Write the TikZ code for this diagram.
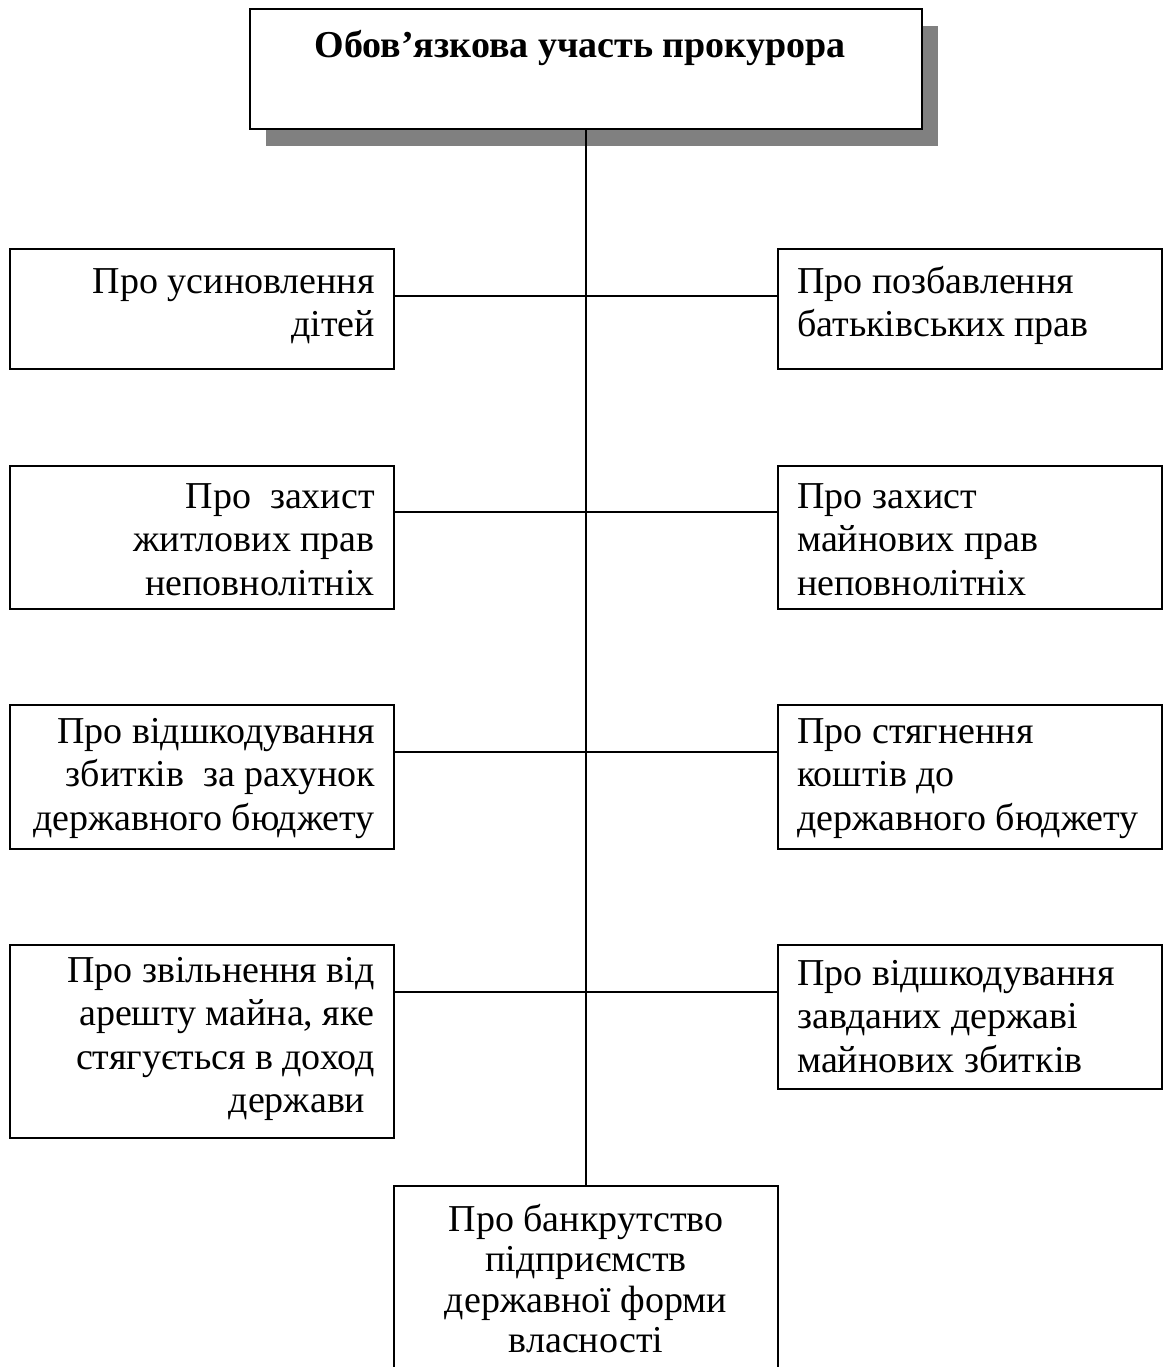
\documentclass[tikz,border=0pt]{standalone}
\usepackage{fontspec}
\setmainfont{Liberation Serif}
\usetikzlibrary{shadows}
\tikzset{
  box/.style={draw=black, line width=2pt, fill=white, rectangle, inner sep=0pt, anchor=north west},
  conn/.style={draw=black, line width=2pt},
  lbl/.style={inner sep=0pt, font=\fontsize{38}{43.5}\selectfont},
}
\newcommand{\fst}{\rule{0pt}{30pt}}
\begin{document}
\begin{tikzpicture}[x=1pt,y=-1pt]
\useasboundingbox (0,0) rectangle (1162,1367);
% top box with shadow
\node[box, minimum width=672pt, minimum height=120pt,
      drop shadow={shadow xshift=16pt, shadow yshift=-17pt, fill=black!50, opacity=1}] (T) at (249,8) {};
\node[lbl, anchor=north, font=\fontsize{38}{43.5}\selectfont\bfseries] (tT) at ([xshift=-6pt,yshift=-19pt]T.north) {\fst Обов’язкова участь прокурора};
% left boxes
\node[box, minimum width=384pt, minimum height=120pt] (L1) at (9,248) {};
\node[box, minimum width=384pt, minimum height=143pt] (L2) at (9,465) {};
\node[box, minimum width=384pt, minimum height=144pt] (L3) at (9,704) {};
\node[box, minimum width=384pt, minimum height=193pt] (L4) at (9,944) {};
% right boxes
\node[box, minimum width=384pt, minimum height=120pt] (R1) at (777,248) {};
\node[box, minimum width=384pt, minimum height=143pt] (R2) at (777,465) {};
\node[box, minimum width=384pt, minimum height=144pt] (R3) at (777,704) {};
\node[box, minimum width=384pt, minimum height=144pt] (R4) at (777,944) {};
% bottom box
\node[box, minimum width=384pt, minimum height=200pt] (B) at (393,1185) {};
% connectors
\draw[conn] (T.south) -- (B.north);
\draw[conn] ([yshift=-48pt]L1.north east) -- ([yshift=-48pt]R1.north west);
\draw[conn] ([yshift=-47pt]L2.north east) -- ([yshift=-47pt]R2.north west);
\draw[conn] ([yshift=-48pt]L3.north east) -- ([yshift=-48pt]R3.north west);
\draw[conn] ([yshift=-48pt]L4.north east) -- ([yshift=-48pt]R4.north west);
% left texts
\node[lbl, anchor=north east, align=right] (tL1) at ([xshift=-20pt,yshift=-15pt]L1.north east) {\fst Про усиновлення\\дітей};
\node[lbl, anchor=north east, align=right] (tL2) at ([xshift=-20pt,yshift=-13pt]L2.north east) {\fst Про~~захист\\житлових прав\\неповнолітніх};
\node[lbl, anchor=north east, align=right] (tL3) at ([xshift=-20pt,yshift=-9pt]L3.north east) {\fst Про відшкодування\\збитків~~за рахунок\\державного бюджету};
\node[lbl, anchor=north east, align=right] (tL4) at ([xshift=-20pt,yshift=-8pt]L4.north east) {\fst Про звільнення від\\арешту майна, яке\\стягується в доход\\держави\hspace*{0.25em}};
% right texts
\node[lbl, anchor=north west, align=left] (tR1) at ([xshift=20pt,yshift=-15pt]R1.north west) {\fst Про позбавлення\\батьківських прав};
\node[lbl, anchor=north west, align=left] (tR2) at ([xshift=20pt,yshift=-13pt]R2.north west) {\fst Про захист\\майнових прав\\неповнолітніх};
\node[lbl, anchor=north west, align=left] (tR3) at ([xshift=20pt,yshift=-9pt]R3.north west) {\fst Про стягнення\\коштів до\\державного бюджету};
\node[lbl, anchor=north west, align=left] (tR4) at ([xshift=20pt,yshift=-11pt]R4.north west) {\fst Про відшкодування\\завданих державі\\майнових збитків};
% bottom text
\node[lbl, anchor=north, align=center, font=\fontsize{38}{40.5}\selectfont] (tB) at ([yshift=-16pt]B.north) {\fst Про банкрутство\\підприємств\\державної форми\\власності};
\end{tikzpicture}
\end{document}
